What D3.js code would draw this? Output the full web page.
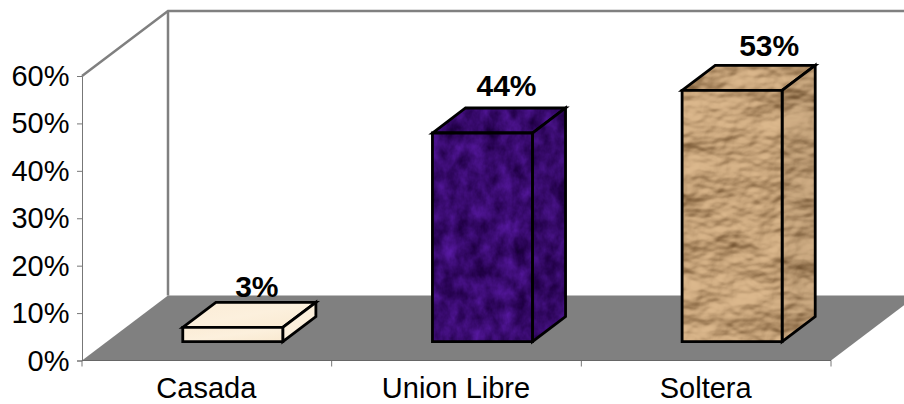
<!DOCTYPE html>
<html><head><meta charset="utf-8">
<script src="https://cdnjs.cloudflare.com/ajax/libs/d3/7.9.0/d3.min.js"></script>
<style>html,body{margin:0;padding:0;background:#fff}svg{display:block}text{font-family:"Liberation Sans",Arial,sans-serif;fill:#000}</style>
</head><body><svg id="c" width="904" height="404"></svg>
<script>
const categories = ["Casada", "Union Libre", "Soltera"];
const values = [3, 44, 53];
const valueLabels = ["3%", "44%", "53%"];
const yTicks = [0, 10, 20, 30, 40, 50, 60];

const svg = d3.select("#c");
const x = d3.scaleBand().domain(categories).range([82, 831]).padding(0);
const y = d3.scaleLinear().domain([0, 60]).range([360.5, 76]);
const depthX = 86, depthY = -65;
const barNear = 0.29, barFar = 0.675, barW = 100, barNudge = 1;
const P = (px, py, d) => [px + d * depthX, py + d * depthY];
const poly = pts => pts.map(p => p.join(",")).join(" ");
const grey = "#808080";

/* textures */
const defs = svg.append("defs");
const paper = defs.append("filter").attr("id", "paper").attr("x", 0).attr("y", 0).attr("width", 1).attr("height", 1)
  .attr("color-interpolation-filters", "sRGB");
paper.append("feTurbulence").attr("type", "fractalNoise").attr("baseFrequency", "0.016 0.024").attr("numOctaves", 4).attr("seed", 8).attr("result", "n");
const lit = paper.append("feDiffuseLighting").attr("in", "n").attr("surfaceScale", 9).attr("diffuseConstant", 1).attr("lighting-color", "#ffffff").attr("result", "l");
lit.append("feDistantLight").attr("azimuth", 250).attr("elevation", 58);
paper.append("feColorMatrix").attr("in", "l").attr("type", "matrix")
  .attr("values", "0.62 0 0 0 0.24  0 0.6 0 0 0.12  0 0 0.55 0 0  0 0 0 0 1").attr("result", "c");
paper.append("feComposite").attr("in", "c").attr("in2", "SourceAlpha").attr("operator", "in");

const velvet = defs.append("filter").attr("id", "velvet").attr("x", 0).attr("y", 0).attr("width", 1).attr("height", 1)
  .attr("color-interpolation-filters", "sRGB");
velvet.append("feTurbulence").attr("type", "fractalNoise").attr("baseFrequency", "0.07 0.05").attr("numOctaves", 4).attr("seed", 5).attr("result", "n");
velvet.append("feColorMatrix").attr("in", "n").attr("type", "matrix")
  .attr("values", "0.3 0 0 0 0.07  0.14 0 0 0 -0.03  0.5 0 0 0 0.18  0 0 0 0 1").attr("result", "c");
velvet.append("feComposite").attr("in", "c").attr("in2", "SourceAlpha").attr("operator", "in");

const cream = defs.append("linearGradient").attr("id", "cream").attr("x1", 0).attr("y1", 0).attr("x2", 1).attr("y2", 1);
cream.append("stop").attr("offset", 0).attr("stop-color", "#fbecd6");
cream.append("stop").attr("offset", 0.5).attr("stop-color", "#fcf0dd");
cream.append("stop").attr("offset", 1).attr("stop-color", "#f9e9d0");

/* walls and floor */
const y0 = y(0), yT = y(60);
svg.append("polygon").attr("points", poly([P(82, y0, 0), P(831, y0, 0), P(831, y0, 1), P(82, y0, 1)])).attr("fill", grey);
svg.append("polyline").attr("fill", "none").attr("stroke", grey).attr("stroke-width", 2.5)
  .attr("points", poly([P(82, y0, 1), P(82, yT, 1)]));
svg.append("polyline").attr("fill", "none").attr("stroke", grey).attr("stroke-width", 2.5)
  .attr("points", poly([P(82, yT, 0), P(82, yT, 1), P(831, yT, 1)]));

/* axes */
const yAxis = d3.axisLeft(y).tickValues(yTicks).tickFormat(d => d + "%").tickSize(5);
const gy = svg.append("g").attr("transform", "translate(82,0)").call(yAxis);
gy.selectAll("path,line").attr("stroke", "#777").attr("stroke-width", 1);
gy.selectAll("text").style("font-size", "29px").attr("dy", "0.33em").attr("x", -12.5);

const xEdges = [...categories.map(c => x(c)), x.range()[1]];
svg.selectAll(".xt").data(xEdges).join("line").attr("class", "xt")
  .attr("x1", d => d).attr("x2", d => d).attr("y1", y0).attr("y2", y0 + 6).attr("stroke", "#777");
svg.append("line").attr("x1", 82).attr("x2", 831).attr("y1", y0).attr("y2", y0).attr("stroke", "#666");
svg.selectAll(".xl").data(categories).join("text").attr("class", "xl")
  .attr("x", d => x(d) + x.bandwidth() / 2 - 0.5).attr("y", 397.8).attr("text-anchor", "middle").attr("font-size", 29).text(d => d);

/* bars */
const fills = [
  { front: "url(#cream)", filter: null, shade: 0 },
  { front: "#000", filter: "url(#velvet)", shade: 0.05 },
  { front: "#000", filter: "url(#paper)", shade: 0.05 }
];
const bars = svg.selectAll(".bar").data(categories).join("g").attr("class", "bar");
bars.each(function (c, i) {
  const g = d3.select(this);
  const xl = x(c) + (x.bandwidth() - barW) / 2 + barNudge;
  const xr = xl + barW;
  const yb = y(0), yt = y(values[i]);
  const a = d => P(xl, yt, d), b = d => P(xr, yt, d), e = d => P(xr, yb, d), f = d => P(xl, yb, d);
  const front = [a(barNear), b(barNear), e(barNear), f(barNear)];
  const top = [a(barNear), a(barFar), b(barFar), b(barNear)];
  const side = [b(barNear), b(barFar), e(barFar), e(barNear)];
  [[top, 0], [side, 1], [front, 0]].forEach(([pts, isSide]) => {
    const p = g.append("polygon").attr("points", poly(pts)).attr("fill", fills[i].front);
    if (fills[i].filter) p.attr("filter", fills[i].filter);
    if (isSide && fills[i].shade) g.append("polygon").attr("points", poly(pts)).attr("fill", "#000").attr("opacity", fills[i].shade);
    g.append("polygon").attr("points", poly(pts)).attr("fill", "none").attr("stroke", "#000").attr("stroke-width", 2.8).attr("stroke-linejoin", "miter");
  });
});

/* value labels */
const labelShift = [[50, 30], [50, 37], [63, 34]];
svg.selectAll(".vl").data(categories).join("text").attr("class", "vl")
  .attr("x", (c, i) => x(c) + x.bandwidth() / 2 + labelShift[i][0])
  .attr("y", (c, i) => y(values[i]) + barNear * depthY - labelShift[i][1])
  .attr("text-anchor", "middle").attr("font-size", 30).attr("font-weight", "bold")
  .text((c, i) => valueLabels[i]);
</script></body></html>
